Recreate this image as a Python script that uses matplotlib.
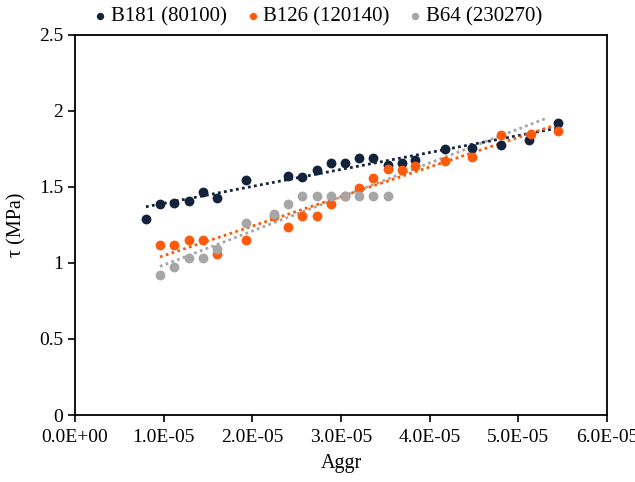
import numpy as np
import matplotlib
matplotlib.use("Agg")
import matplotlib.pyplot as plt
from matplotlib.ticker import FuncFormatter, MultipleLocator

plt.rcParams['font.family'] = ['Liberation Serif', 'DejaVu Serif']
plt.rcParams['font.size'] = 14

# data (x in units of 1e-5)
x181 = [0.80, 0.958, 1.116, 1.285, 1.443, 1.60, 1.93, 2.40, 2.56, 2.73, 2.89,
        3.04, 3.20, 3.36, 3.53, 3.69, 3.84, 4.17, 4.48, 4.81, 5.12, 5.45]
y181 = [1.29, 1.385, 1.395, 1.41, 1.465, 1.425, 1.545, 1.57, 1.565, 1.61, 1.66,
        1.66, 1.69, 1.69, 1.645, 1.66, 1.68, 1.75, 1.755, 1.775, 1.81, 1.92]

x126 = [0.958, 1.116, 1.285, 1.443, 1.60, 1.93, 2.24, 2.40, 2.56, 2.73, 2.89,
        3.04, 3.20, 3.36, 3.53, 3.69, 3.84, 4.17, 4.48, 4.81, 5.14, 5.45]
y126 = [1.12, 1.12, 1.15, 1.15, 1.06, 1.15, 1.31, 1.235, 1.31, 1.31, 1.385,
        1.44, 1.495, 1.56, 1.62, 1.61, 1.64, 1.67, 1.695, 1.84, 1.85, 1.865]

x64 = [0.958, 1.116, 1.285, 1.443, 1.60, 1.93, 2.24, 2.40, 2.56, 2.73, 2.89,
       3.04, 3.20, 3.36, 3.53]
y64 = [0.92, 0.975, 1.035, 1.035, 1.09, 1.265, 1.325, 1.385, 1.44, 1.44, 1.44,
       1.44, 1.44, 1.44, 1.44]

series = [
    ("B181 (80100)", x181, y181, "#14233c", None),
    ("B126 (120140)", x126, y126, "#ff5a0a", None),
    ("B64 (230270)", x64, y64, "#a6a6a6", 5.33),
]

fig = plt.figure(figsize=(6.35, 4.82), dpi=100)
ax = fig.add_axes([0.1181, 0.139, 0.8378, 0.7885])

for name, xs, ys, c, xend in series:
    xs = np.array(xs) * 1e-5
    ys = np.array(ys)
    ax.scatter(xs, ys, s=50, color=c, label=name, zorder=3, linewidths=0)
    k, b = np.polyfit(xs, ys, 1)
    x1 = xs.max() if xend is None else xend * 1e-5
    xx = np.array([xs.min(), x1])
    ax.plot(xx, k * xx + b, color=c, lw=2, linestyle=(0, (1, 1.2)), zorder=2)

ax.set_xlim(0, 6e-5)
ax.set_ylim(0, 2.5)
ax.xaxis.set_major_locator(MultipleLocator(1e-5))
ax.yaxis.set_major_locator(MultipleLocator(0.5))
ax.xaxis.set_major_formatter(FuncFormatter(lambda v, p: f"{v:.1E}"))
ax.yaxis.set_major_formatter(FuncFormatter(lambda v, p: f"{v:g}"))
ax.tick_params(direction='out', length=5, width=1.2, color='black', labelsize=14)
ax.tick_params(axis='x', pad=5)
for s in ax.spines.values():
    s.set_linewidth(1.3)

ax.set_xlabel("Aggr", fontsize=14.5, labelpad=6)
ax.set_ylabel("τ (MPa)", fontsize=14.5, labelpad=9)

fig.legend(loc='upper center', bbox_to_anchor=(0.5, 1.025), ncol=3,
           frameon=False, handlelength=0.7, handletextpad=0.15,
           columnspacing=0.9, markerscale=0.75, scatterpoints=1, fontsize=15)

fig.savefig("out.png", dpi=100)
